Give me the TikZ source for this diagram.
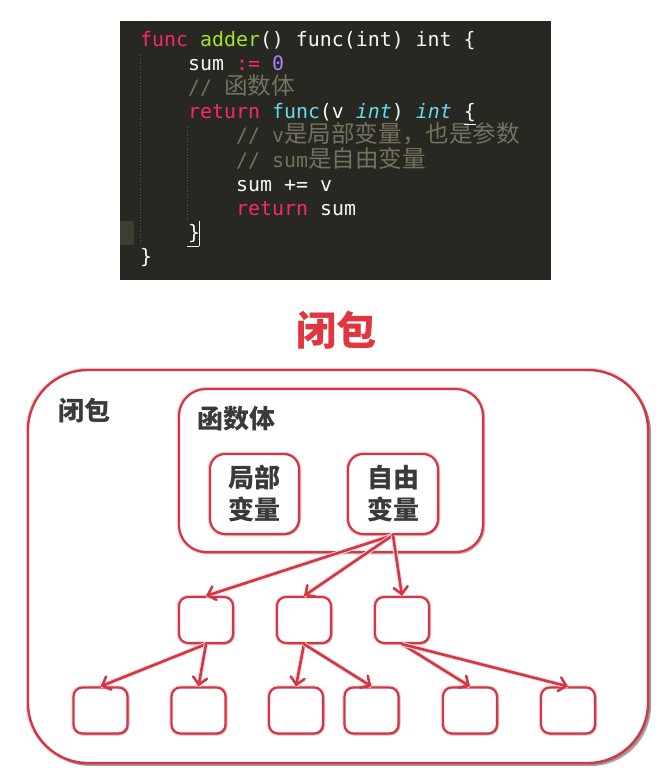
\documentclass[tikz,border=0pt]{standalone}
\usepackage{fontspec}
\newfontfamily\mono{DejaVu Sans Mono}
\newfontfamily\cjk{Noto Sans CJK SC}
\usetikzlibrary{arrows.meta,shadows}
\definecolor{codebg}{HTML}{272822}
\definecolor{cpink}{HTML}{F92672}
\definecolor{cgreen}{HTML}{A6E22E}
\definecolor{cpurple}{HTML}{AE81FF}
\definecolor{ccyan}{HTML}{66D9EF}
\definecolor{cwhite}{HTML}{F8F8F2}
\definecolor{ccomment}{HTML}{75715E}
\definecolor{cgutter}{HTML}{3E3D32}
\definecolor{cguide}{HTML}{5A5A50}
\definecolor{cred}{HTML}{D23743}
\definecolor{ctitle}{HTML}{E0363F}
\definecolor{clabel}{HTML}{3A3A3A}
\newcommand{\ckw}[1]{\textcolor{cpink}{#1}}
\newcommand{\cfn}[1]{\textcolor{cgreen}{#1}}
\newcommand{\cnum}[1]{\textcolor{cpurple}{#1}}
\newcommand{\ctyp}[1]{\textcolor{ccyan}{#1}}
\newcommand{\ctypi}[1]{\textcolor{ccyan}{\itshape #1}}
\newcommand{\cjkc}[1]{{\cjk\fontsize{23.6}{24}\selectfont #1}}
\tikzset{
  codeline/.style={anchor=base west, inner sep=0pt, text=cwhite, font=\mono\fontsize{19.9}{24}\selectfont},
  comline/.style={codeline, text=ccomment},
  boxbase/.style={draw=cred, fill=white, inner sep=0pt,
    preaction={draw=cred!22, line width=4.5pt}},
  outerbox/.style={boxbase, line width=2.4pt, rounded corners=60pt,
    drop shadow={shadow xshift=3pt, shadow yshift=-3pt, opacity=0.35, fill=black}},
  bodybox/.style={boxbase, line width=2.2pt, rounded corners=27pt,
    drop shadow={shadow xshift=2pt, shadow yshift=-2pt, opacity=0.2, fill=black}},
  varbox/.style={boxbase, line width=2.2pt, rounded corners=15pt,
    drop shadow={shadow xshift=1.5pt, shadow yshift=-1.5pt, opacity=0.2, fill=black},
    text=clabel, align=center, font=\cjk\bfseries\fontsize{26}{32}\selectfont},
  smallbox/.style={boxbase, line width=2.2pt, rounded corners=9pt,
    minimum width=54pt, minimum height=46pt,
    drop shadow={shadow xshift=1.5pt, shadow yshift=-1.5pt, opacity=0.2, fill=black}},
  arr/.style={draw=cred, line width=2.6pt, line cap=round,
    -{Straight Barb[length=7pt,width=14pt,line cap=round]},
    preaction={draw=cred!20, line width=4.5pt, -}},
  lab/.style={text=clabel, inner sep=0pt, font=\cjk\bfseries\fontsize{26}{30}\selectfont}
}
\begin{document}
\begin{tikzpicture}[x=1pt,y=-1pt]
\useasboundingbox (0,0) rectangle (671,780);
\fill[white] (0,0) rectangle (671,780);
% code panel
\fill[codebg] (120,21) rectangle (551,280);
\fill[cgutter] (120,221) rectangle (134,245);
\draw[cguide, line width=0.8pt, dotted] (140,55) -- (140,243);
\draw[cguide, line width=0.8pt, dotted] (187,127) -- (187,220);
\node[codeline] (l1) at (140,46) {\ckw{func} \cfn{adder}() func(int) int \{};
\node[codeline] (l2) at (188,70.2) {sum \ckw{:=} \cnum{0}};
\node[comline] (l3) at (188,94.4) {// \cjkc{函数体}};
\node[codeline] (l4) at (188,118.6) {\ckw{return} \ctyp{func}(v \ctypi{int}) \ctypi{int} \{};
\node[comline] (l5) at (236,142.8) {// v\cjkc{是局部变量，也是参数}};
\node[comline] (l6) at (236,167) {// sum\cjkc{是自由变量}};
\node[codeline] (l7) at (236,191.2) {sum += v};
\node[codeline] (l8) at (236,215.4) {\ckw{return} sum};
\node[codeline] (l9) at (188,239.6) {\}};
\node[codeline] (l10) at (140,263.8) {\}};
\draw[cwhite, line width=0.9pt] (464,124) -- (476,124);
\draw[cwhite, line width=0.9pt] (187,246) -- (199,246);
\draw[cwhite, line width=0.9pt] (199,221) -- (199,246);
% title
\node[text=ctitle, inner sep=0pt, font=\cjk\bfseries\fontsize{40}{44}\selectfont] (title) at (336,330) {闭包};
% diagram
\node[outerbox, minimum width=620pt, minimum height=393pt] (outer) at (338,566.5) {};
\node[lab] (closlab) at (84,411) {闭包};
\node[bodybox, minimum width=304pt, minimum height=163pt] (body) at (331,470.5) {};
\node[lab] (bodylab) at (236,419) {函数体};
\node[varbox, minimum width=89pt, minimum height=80pt] (local) at (254.5,494) {局部\\变量};
\node[varbox, minimum width=90pt, minimum height=80pt] (free) at (393,494) {自由\\变量};
\node[smallbox] (m1) at (206,620) {};
\node[smallbox] (m2) at (304,620) {};
\node[smallbox] (m3) at (402,620) {};
\node[smallbox] (b1) at (100.5,710.5) {};
\node[smallbox] (b2) at (198.5,710.5) {};
\node[smallbox] (b3) at (296,710.5) {};
\node[smallbox] (b4) at (371.5,710.5) {};
\node[smallbox] (b5) at (470,710.5) {};
\node[smallbox] (b6) at (568,710.5) {};
\draw[arr] (free.south) -- (m1.north);
\draw[arr] (free.south) -- (m2.north);
\draw[arr] (free.south) -- (m3.north);
\draw[arr] (m1.south) -- (b1.north);
\draw[arr] (m1.south) -- (b2.north);
\draw[arr] (m2.south) -- (b3.north);
\draw[arr] (m2.south) -- (b4.north);
\draw[arr] (m3.south) -- (b5.north);
\draw[arr] (m3.south) -- (b6.north);
\end{tikzpicture}
\end{document}
